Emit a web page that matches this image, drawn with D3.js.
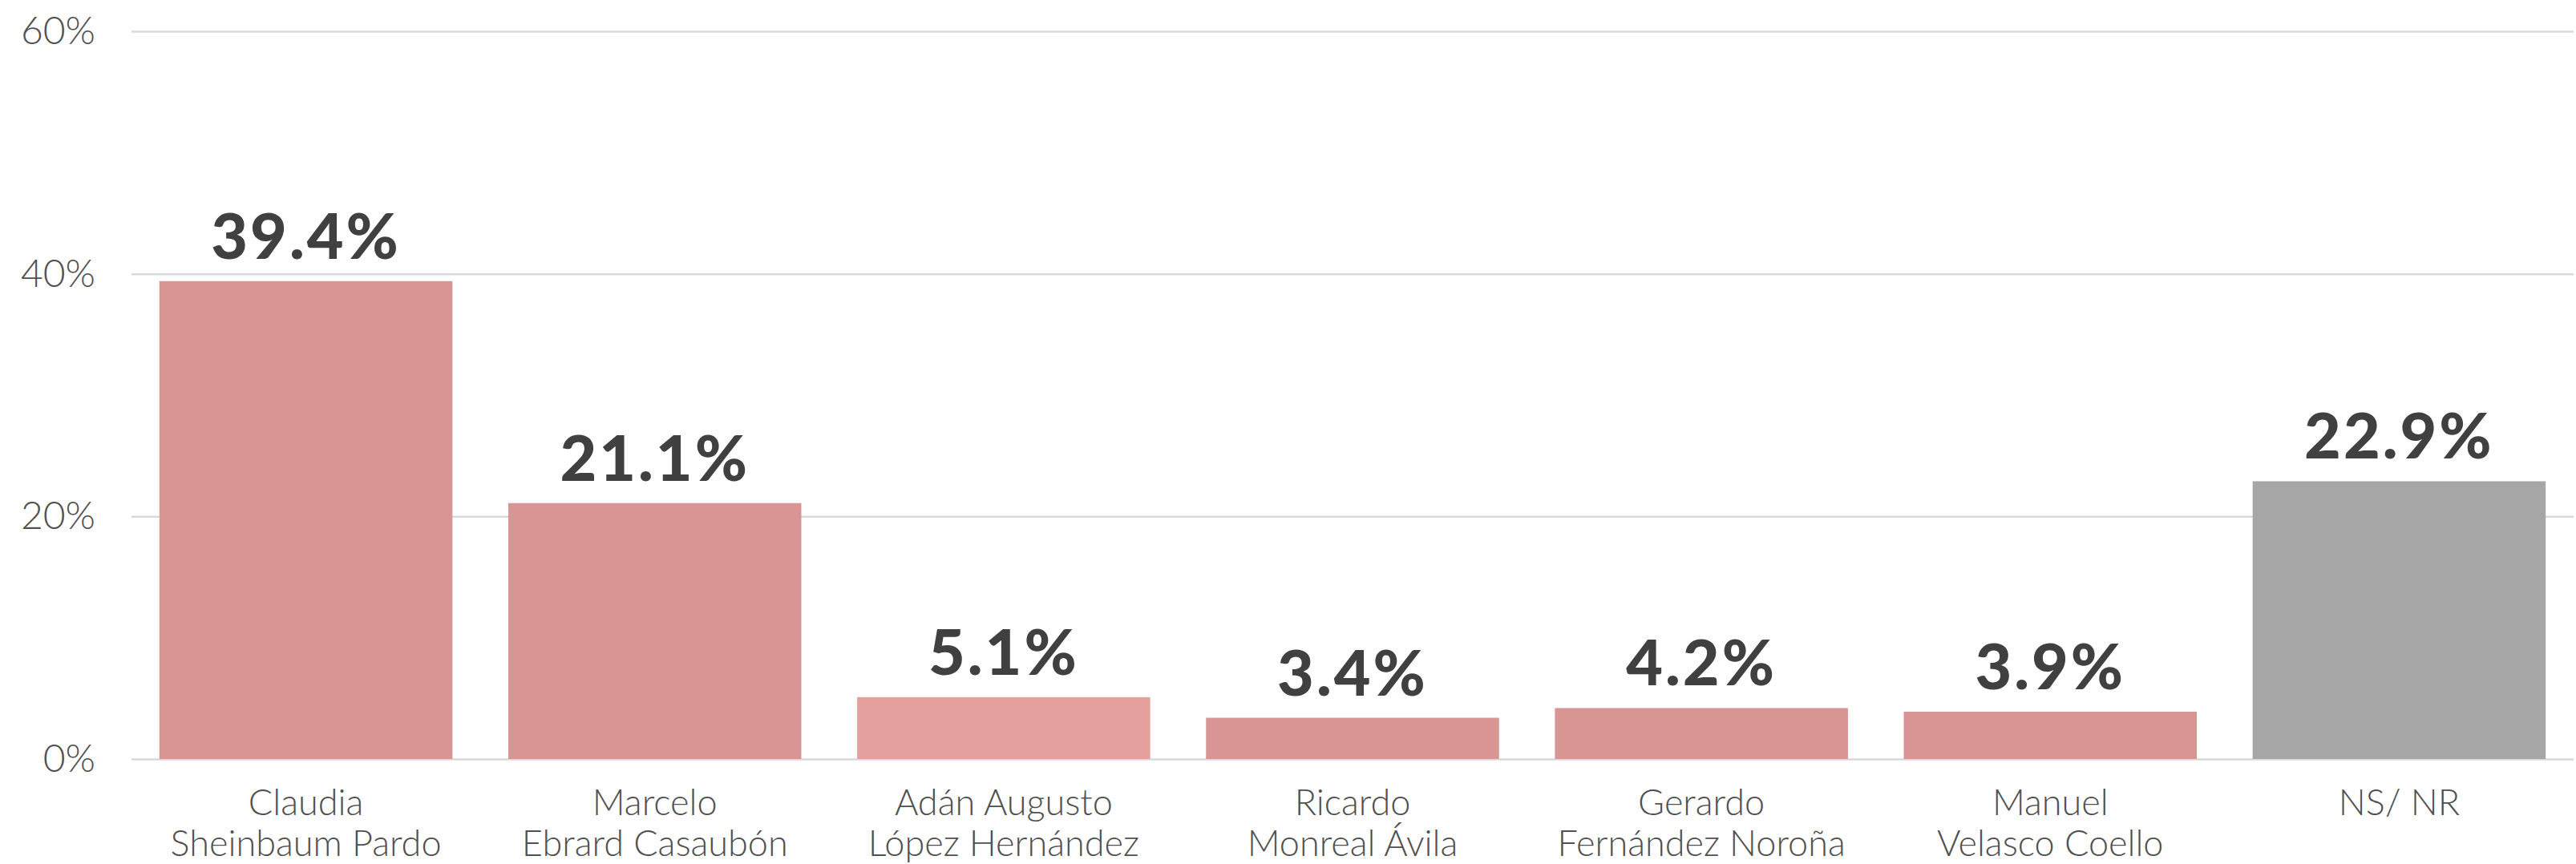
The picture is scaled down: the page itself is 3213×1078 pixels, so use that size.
<!DOCTYPE html>
<html>
<head>
<meta charset="utf-8">
<script src="https://cdn.jsdelivr.net/npm/d3@7"></script>
<style>
  body { margin: 0; background: #fff; }
  .tick line { stroke: #d9d9d9; stroke-width: 2.5; }
  .yaxis text { font-family: Lato, sans-serif; font-weight: 300; font-size: 48px; fill: #505050; }
  .xlabel { font-family: Lato, sans-serif; font-weight: 300; font-size: 45px; fill: #505050; }
  .value { font-family: Lato, sans-serif; font-weight: 900; font-size: 79px; letter-spacing: 3px; fill: #404040; }
</style>
</head>
<body>
<div id="chart"></div>
<script>
// candidatos (dos renglones por etiqueta)
var firstLines = ["Claudia", "Marcelo", "Adán Augusto", "Ricardo", "Gerardo", "Manuel", "NS/ NR"];
var secondLines = ["Sheinbaum Pardo", "Ebrard Casaubón", "López Hernández", "Monreal Ávila", "Fernández Noroña", "Velasco Coello", ""];
var values = [39.4, 21.1, 5.1, 3.4, 4.2, 3.9, 22.9];
var yTicks = [0, 20, 40, 60];

var width = 3213, height = 1078;
var margin = {top: 39, right: 3, bottom: 131, left: 164};

var rows = values.map(function(v, i) {
  return {key: i, first: firstLines[i], second: secondLines[i], value: v};
});

var svg = d3.select("#chart").append("svg")
  .attr("width", width)
  .attr("height", height);

var x = d3.scaleBand()
  .domain(rows.map(function(d) { return d.key; }))
  .range([margin.left, width - margin.right])
  .paddingInner(0.16)
  .paddingOuter(0.08);

var y = d3.scaleLinear()
  .domain([0, 60])
  .range([height - margin.bottom, margin.top]);

function barColor(d, i) {
  if (d.first === "NS/ NR") return "#a6a6a6";
  if (i === 2) return "#e5a09e";
  return "#d99594";
}

// grid + y labels
var yAxis = svg.append("g")
  .attr("class", "yaxis")
  .attr("transform", "translate(" + margin.left + ",0)")
  .call(d3.axisLeft(y)
    .tickValues(yTicks)
    .tickSize(-(width - margin.right - margin.left))
    .tickPadding(45)
    .tickFormat(function(d) { return d + "%"; }));

yAxis.select(".domain").remove();

svg.selectAll("rect.bar")
  .data(rows)
  .enter()
  .append("rect")
    .attr("class", "bar")
    .attr("x", function(d) { return x(d.key); })
    .attr("y", function(d) { return y(d.value); })
    .attr("width", x.bandwidth())
    .attr("height", function(d) { return y(0) - y(d.value); })
    .attr("fill", barColor);

svg.selectAll("text.value")
  .data(rows)
  .enter()
  .append("text")
    .attr("class", "value")
    .attr("text-anchor", "middle")
    .attr("x", function(d) { return x(d.key) + x.bandwidth() / 2; })
    .attr("y", function(d) { return y(d.value) - 28; })
    .text(function(d) { return d.value.toFixed(1) + "%"; });

var labels = svg.selectAll("text.xlabel")
  .data(rows)
  .enter()
  .append("text")
    .attr("class", "xlabel")
    .attr("text-anchor", "middle")
    .attr("x", function(d) { return x(d.key) + x.bandwidth() / 2; })
    .attr("y", y(0) + 70);

labels.append("tspan")
  .attr("x", function(d) { return x(d.key) + x.bandwidth() / 2; })
  .text(function(d) { return d.first; });

labels.append("tspan")
  .attr("x", function(d) { return x(d.key) + x.bandwidth() / 2; })
  .attr("dy", 51)
  .text(function(d) { return d.second; });
</script>
</body>
</html>
